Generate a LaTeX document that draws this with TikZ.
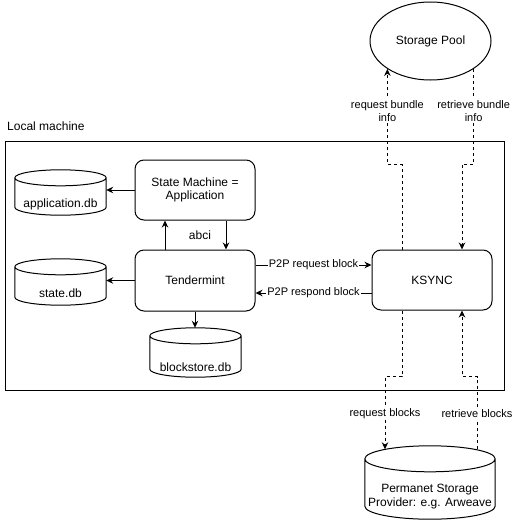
\documentclass[tikz,border=0pt]{standalone}
\usepackage{fontspec}
\setmainfont{Liberation Sans}
\usetikzlibrary{arrows.meta,shapes.geometric,calc}
\newcommand\cylshape[2]{%
  \filldraw[line width=1pt, fill=white] let \p1=(#1.north west), \p2=(#1.south east), \n1={(\x2-\x1)/2} in
    (\x1,{\y1-#2}) -- (\x1,{\y2+#2}) arc[start angle=180,end angle=360,x radius={\n1*1pt},y radius=#2]
    -- (\x2,{\y1-#2}) arc[start angle=0,end angle=180,x radius={\n1*1pt},y radius=#2] -- cycle
    (\x1,{\y1-#2}) arc[start angle=180,end angle=360,x radius={\n1*1pt},y radius=#2];
}
\begin{document}
\begin{tikzpicture}[x=1pt,y=-1pt,
  every node/.style={font=\fontsize{12}{13.5}\selectfont},
  box/.style={draw, line width=1pt, rounded corners=9pt, fill=white, minimum width=120pt, minimum height=60pt, align=center, inner sep=0pt},
  dbbox/.style={inner sep=0pt},
  lbl/.style={font=\fontsize{11}{13}\selectfont, fill=white, inner sep=1pt, align=center},
  arr/.style={line width=1pt, -{Stealth[length=7pt,width=6.5pt]}},
  darr/.style={arr, dash pattern=on 3pt off 3pt}]
\useasboundingbox (0,0) rectangle (515,522);

\node[draw, line width=1pt, minimum width=499pt, minimum height=249pt, anchor=north west, inner sep=0pt] (frame) at (5,141) {};
\node[anchor=west, inner sep=2pt] (lm) at ([yshift=15pt]frame.north west) {Local machine};

\node[box] (sm) at (195,190) {State Machine =\\Application};
\node[box, minimum height=61pt] (tm) at (195,280.5) {Tendermint};
\node[box] (ks) at (432,280) {KSYNC};
\node[draw, ellipse, line width=1pt, minimum width=121pt, minimum height=78pt, inner sep=0pt, fill=white] (pool) at (430.5,41) {Storage Pool};

\node[dbbox, minimum width=91pt, minimum height=45pt] (appdb) at (60.5,192.5) {};
\node[dbbox, minimum width=91pt, minimum height=46pt] (statedb) at (60.5,282) {};
\node[dbbox, minimum width=91pt, minimum height=49pt] (bsdb) at (195.5,352.5) {};
\node[dbbox, minimum width=130pt, minimum height=73pt] (perm) at (430,482.5) {};

\cylshape{appdb}{8pt}
\cylshape{statedb}{8pt}
\cylshape{bsdb}{8pt}
\cylshape{perm}{13pt}

\node (appdbt) at ([yshift=-11.5pt]appdb.center) {application.db};
\node (statet) at ([yshift=-11pt]statedb.center) {state.db};
\node (bst) at ([yshift=-14.5pt]bsdb.center) {blockstore.db};
\node[align=center, font=\fontsize{12}{14.5}\selectfont] (permt) at ([yshift=-14pt]perm.center) {Permanet Storage\\Provider: e.g. Arweave};

\draw[arr] (sm.west) -- (sm.west -| appdb.east);
\draw[arr] (tm.west) -- (tm.west -| statedb.east);
\draw[arr] (tm.south) -- (tm.south |- bsdb.north);
\draw[arr] ([xshift=-30pt]tm.north) -- ([xshift=-30pt]sm.south);
\draw[arr] ([xshift=31pt]sm.south) -- node[xshift=-26pt] {abci} ([xshift=31pt]tm.north);

\coordinate (r1) at ([yshift=15.5pt]tm.east);
\coordinate (r2) at ([yshift=-12.5pt]tm.east);
\draw[arr] (r1) -- node[lbl] {P2P request block} (r1 -| ks.west);
\draw[arr] (r2 -| ks.west) -- node[lbl] {P2P respond block} (r2);

\coordinate (kt1) at ([xshift=-30pt]ks.north);
\coordinate (kt2) at ([xshift=30pt]ks.north);
\coordinate (kb1) at ([xshift=-30pt]ks.south);
\coordinate (kb2) at ([xshift=30pt]ks.south);
\coordinate (pp1) at ([xshift=-45pt,yshift=-3.5pt]perm.north);
\coordinate (pp2) at ([xshift=47pt,yshift=-3.5pt]perm.north);

\draw[darr] (kt1) -- ([yshift=85pt]kt1) -| node[lbl, pos=0.78] {request bundle\\info} (pool.south west);
\draw[darr] (pool.south east) |- node[lbl, pos=0.22] {retrieve bundle\\info} ([yshift=85pt]kt2) -- (kt2);
\draw[darr] (kb1) -- ([yshift=-66pt]kb1) -| node[lbl, pos=0.755] {request blocks} (pp1);
\draw[darr] (pp2) |- node[lbl, pos=0.245] {retrieve blocks} ([yshift=-66pt]kb2) -- (kb2);
\end{tikzpicture}
\end{document}
